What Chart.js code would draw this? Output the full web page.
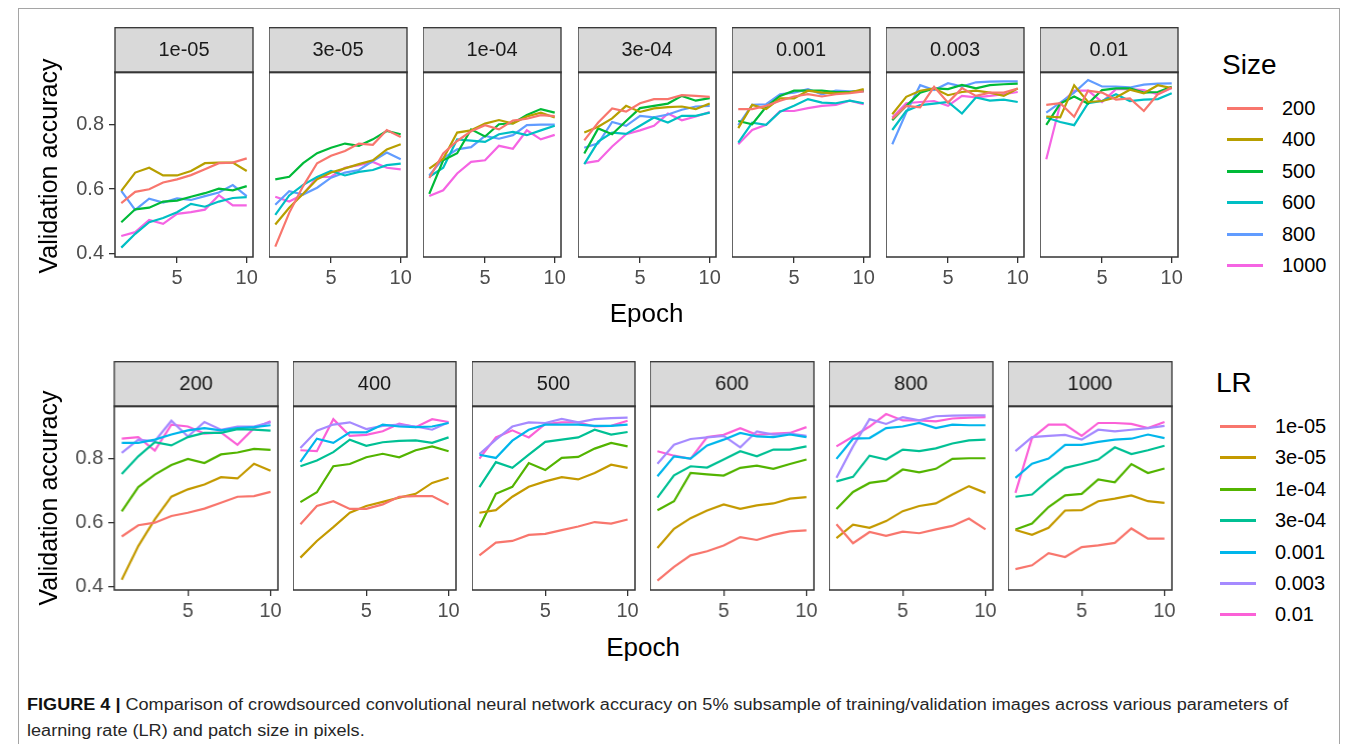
<!DOCTYPE html>
<html>
<head>
<meta charset="utf-8">
<script src="https://cdn.jsdelivr.net/npm/chart.js@4.4.1/dist/chart.umd.min.js"></script>
<style>
  body { margin: 0; background: #fff; font-family: "Liberation Sans", Arial, sans-serif; }
  #fig { position: relative; width: 1357px; height: 744px; overflow: hidden; background: #fff; }
  #frame { position: absolute; left: 18px; top: 8px; width: 1322px; height: 760px; border: 1px solid #a5a5a5; box-sizing: border-box; }
  canvas { position: absolute; }
  .t { position: absolute; white-space: nowrap; color: #000; line-height: 1; }
  .c { transform: translate(-50%, -50%); }
  .key { position: absolute; height: 3px; width: 36px; }
  #caption { position: absolute; left: 27px; top: 692px; width: 1160px; font-size: 16px; line-height: 26px; color: #262626;
             transform: scaleX(1.13); transform-origin: 0 0; white-space: nowrap; }
  #caption b { color: #111; }
</style>
</head>
<body>
<div id="fig">
  <div id="frame"></div>
  <div id="caption"><b>FIGURE 4 |</b> Comparison of crowdsourced convolutional neural network accuracy on 5% subsample of training/validation images across various parameters of<br>learning rate (LR) and patch size in pixels.</div>
</div>
<script>
// --- data -------------------------------------------------------------
const epochs = [1, 2, 3, 4, 5, 6, 7, 8, 9, 10];
const lrLabels = ['1e-05', '3e-05', '1e-04', '3e-04', '0.001', '0.003', '0.01'];
const sizeLabels = ['200', '400', '500', '600', '800', '1000'];
const sizeColors = ['#F8766D', '#B79F00', '#00BA38', '#00BFC4', '#619CFF', '#F564E3'];
const lrColors = ['#F8766D', '#C49A00', '#53B400', '#00C094', '#00B6EB', '#A58AFF', '#FB61D7'];
const xTicks = [5, 10];
const yTicks = [0.4, 0.6, 0.8];

// validation accuracy per patch size, one row per LR (same order as lrLabels)
const acc200 = [
  [0.556, 0.591, 0.599, 0.620, 0.630, 0.643, 0.661, 0.680, 0.682, 0.695],
  [0.421, 0.526, 0.609, 0.680, 0.703, 0.718, 0.741, 0.737, 0.783, 0.761],
  [0.634, 0.710, 0.749, 0.779, 0.798, 0.785, 0.812, 0.818, 0.829, 0.826],
  [0.751, 0.806, 0.850, 0.840, 0.866, 0.879, 0.879, 0.891, 0.889, 0.886],
  [0.848, 0.848, 0.858, 0.874, 0.887, 0.894, 0.887, 0.894, 0.897, 0.903],
  [0.817, 0.858, 0.853, 0.917, 0.868, 0.913, 0.889, 0.899, 0.899, 0.912],
  [0.861, 0.866, 0.824, 0.905, 0.899, 0.877, 0.881, 0.842, 0.894, 0.915]
];
const acc400 = [
  [0.594, 0.651, 0.666, 0.642, 0.642, 0.656, 0.680, 0.682, 0.682, 0.656],
  [0.490, 0.542, 0.585, 0.630, 0.651, 0.664, 0.677, 0.689, 0.723, 0.739],
  [0.663, 0.694, 0.775, 0.782, 0.803, 0.814, 0.803, 0.825, 0.837, 0.822],
  [0.775, 0.793, 0.819, 0.858, 0.839, 0.850, 0.854, 0.856, 0.848, 0.865],
  [0.789, 0.861, 0.848, 0.881, 0.881, 0.905, 0.899, 0.897, 0.899, 0.910],
  [0.832, 0.886, 0.905, 0.912, 0.891, 0.901, 0.905, 0.899, 0.889, 0.912],
  [0.825, 0.822, 0.922, 0.870, 0.873, 0.884, 0.908, 0.897, 0.922, 0.913]
];
const acc500 = [
  [0.497, 0.537, 0.542, 0.561, 0.564, 0.576, 0.587, 0.601, 0.596, 0.609],
  [0.630, 0.638, 0.680, 0.711, 0.728, 0.741, 0.734, 0.754, 0.780, 0.770],
  [0.585, 0.689, 0.711, 0.785, 0.763, 0.801, 0.804, 0.830, 0.848, 0.837],
  [0.710, 0.788, 0.770, 0.811, 0.851, 0.858, 0.865, 0.889, 0.874, 0.882],
  [0.811, 0.801, 0.855, 0.889, 0.905, 0.905, 0.905, 0.901, 0.901, 0.905],
  [0.813, 0.858, 0.899, 0.912, 0.910, 0.923, 0.912, 0.922, 0.925, 0.927],
  [0.799, 0.865, 0.887, 0.865, 0.907, 0.912, 0.912, 0.899, 0.901, 0.917]
];
const acc600 = [
  [0.418, 0.461, 0.497, 0.510, 0.528, 0.554, 0.545, 0.561, 0.572, 0.575],
  [0.520, 0.580, 0.613, 0.637, 0.656, 0.642, 0.653, 0.659, 0.674, 0.679],
  [0.638, 0.666, 0.754, 0.750, 0.746, 0.770, 0.777, 0.767, 0.782, 0.796],
  [0.677, 0.747, 0.775, 0.771, 0.796, 0.822, 0.806, 0.827, 0.827, 0.837],
  [0.744, 0.806, 0.799, 0.840, 0.858, 0.879, 0.868, 0.866, 0.874, 0.866],
  [0.783, 0.842, 0.860, 0.865, 0.870, 0.834, 0.884, 0.874, 0.877, 0.870],
  [0.822, 0.808, 0.798, 0.866, 0.873, 0.894, 0.873, 0.877, 0.879, 0.897]
];
const acc800 = [
  [0.594, 0.535, 0.570, 0.558, 0.571, 0.566, 0.578, 0.589, 0.612, 0.578],
  [0.551, 0.593, 0.583, 0.604, 0.635, 0.651, 0.659, 0.687, 0.713, 0.692],
  [0.642, 0.695, 0.723, 0.730, 0.765, 0.756, 0.767, 0.798, 0.800, 0.800],
  [0.728, 0.742, 0.808, 0.796, 0.827, 0.822, 0.831, 0.846, 0.856, 0.858],
  [0.798, 0.861, 0.863, 0.894, 0.899, 0.910, 0.894, 0.905, 0.903, 0.903],
  [0.739, 0.837, 0.922, 0.907, 0.928, 0.918, 0.931, 0.933, 0.934, 0.934],
  [0.837, 0.868, 0.899, 0.938, 0.918, 0.918, 0.915, 0.924, 0.927, 0.928]
];
const acc1000 = [
  [0.454, 0.466, 0.504, 0.492, 0.523, 0.528, 0.536, 0.581, 0.549, 0.549],
  [0.576, 0.561, 0.583, 0.637, 0.638, 0.666, 0.674, 0.684, 0.666, 0.661],
  [0.578, 0.596, 0.648, 0.684, 0.689, 0.734, 0.725, 0.782, 0.754, 0.768],
  [0.680, 0.687, 0.732, 0.770, 0.782, 0.796, 0.834, 0.813, 0.825, 0.839],
  [0.739, 0.783, 0.799, 0.842, 0.842, 0.851, 0.858, 0.861, 0.874, 0.863],
  [0.822, 0.866, 0.870, 0.873, 0.858, 0.889, 0.884, 0.889, 0.894, 0.901],
  [0.692, 0.863, 0.905, 0.905, 0.870, 0.910, 0.910, 0.907, 0.894, 0.913]
];
const accBySize = [acc200, acc400, acc500, acc600, acc800, acc1000];

// --- layout -----------------------------------------------------------
const FONT = '"Liberation Sans", Arial, sans-serif';
const X_MIN = 0.55, X_MAX = 10.45;
const Y_MIN = 0.389, Y_MAX = 0.963;
const fig = document.getElementById('fig');

// strip + panel border drawn around chart area
const panelDeco = {
  id: 'panelDeco',
  beforeDraw(chart, args, opts) {
    const { ctx, chartArea: a } = chart;
    ctx.save();
    ctx.fillStyle = '#d9d9d9';
    ctx.fillRect(a.left, a.top - opts.stripH, a.right - a.left, opts.stripH);
    ctx.strokeStyle = '#333';
    ctx.lineWidth = 1.3;
    ctx.strokeRect(a.left, a.top - opts.stripH + 0.7, a.right - a.left, opts.stripH);
    ctx.fillStyle = '#1a1a1a';
    ctx.font = '20px ' + FONT;
    ctx.textAlign = 'center';
    ctx.textBaseline = 'middle';
    ctx.fillText(opts.title, (a.left + a.right) / 2, a.top - opts.stripH / 2 + 1);
    ctx.restore();
  },
  afterDraw(chart) {
    const { ctx, chartArea: a } = chart;
    ctx.save();
    ctx.strokeStyle = '#333';
    ctx.lineWidth = 1.5;
    ctx.strokeRect(a.left, a.top, a.right - a.left, a.bottom - a.top);
    ctx.restore();
  }
};

function makePanel(p) {
  const padL = p.showY ? 80 : 0, padR = 18, axisH = 40;
  const cv = document.createElement('canvas');
  const w = padL + p.w + padR, h = p.stripH + p.h + axisH;
  cv.width = w; cv.height = h;
  cv.style.left = (p.left - padL) + 'px';
  cv.style.top = (p.top - p.stripH) + 'px';
  cv.style.width = w + 'px'; cv.style.height = h + 'px';
  fig.appendChild(cv);

  const tickGrid = { display: true, drawOnChartArea: false, drawTicks: true, tickLength: 6, color: '#333', lineWidth: 1.3 };
  new Chart(cv.getContext('2d'), {
    type: 'line',
    data: {
      datasets: p.series.map(s => ({
        label: s.label,
        data: epochs.map((e, i) => ({ x: e, y: s.values[i] })),
        borderColor: s.color,
        borderWidth: 2.2,
        pointRadius: 0,
        tension: 0,
        fill: false
      }))
    },
    options: {
      responsive: false,
      animation: false,
      devicePixelRatio: 1,
      layout: { padding: { left: 0, right: padR, top: p.stripH, bottom: 0 } },
      plugins: {
        legend: { display: false },
        tooltip: { enabled: false },
        panelDeco: { title: p.title, stripH: p.stripH }
      },
      scales: {
        x: {
          type: 'linear', min: X_MIN, max: X_MAX,
          afterBuildTicks: ax => { ax.ticks = xTicks.map(v => ({ value: v })); },
          afterFit: s => { s.height = axisH; },
          ticks: { color: '#4d4d4d', font: { family: FONT, size: 20 }, padding: 3, maxRotation: 0 },
          grid: tickGrid,
          border: { display: false }
        },
        y: {
          display: p.showY,
          min: Y_MIN, max: Y_MAX,
          afterBuildTicks: ax => { ax.ticks = yTicks.map(v => ({ value: v })); },
          afterFit: s => { s.width = padL; },
          ticks: { color: '#4d4d4d', font: { family: FONT, size: 20 }, padding: 5, callback: v => v.toFixed(1) },
          grid: tickGrid,
          border: { display: false }
        }
      }
    },
    plugins: [panelDeco]
  });
}

function addText(txt, x, y, size, extra) {
  const d = document.createElement('div');
  d.className = 't' + (extra && extra.center ? ' c' : '');
  d.textContent = txt;
  d.style.left = x + 'px'; d.style.top = y + 'px';
  d.style.fontSize = size + 'px';
  if (extra && extra.rotate) d.style.transform = 'translate(-50%,-50%) rotate(-90deg)';
  fig.appendChild(d);
}

function addLegend(title, labels, colors, titleX, titleY, keyX, firstY, step) {
  addText(title, titleX, titleY - 14, 28);
  labels.forEach((lab, i) => {
    const y = Math.round(firstY + i * step);
    const k = document.createElement('div');
    k.className = 'key';
    k.style.left = keyX + 'px'; k.style.top = (y - 1) + 'px';
    k.style.background = colors[i];
    fig.appendChild(k);
    addText(lab, keyX + 55, y - 10, 20);
  });
}

// top row: facet by LR, lines by patch size
const topLefts = [115, 269.2, 423.4, 577.6, 731.8, 886, 1040.2];
lrLabels.forEach((lr, j) => {
  makePanel({
    left: topLefts[j], top: 72, w: 138, h: 185, stripH: 45,
    title: lr, showY: j === 0,
    series: sizeLabels.map((s, k) => ({ label: s, color: sizeColors[k], values: accBySize[k][j] }))
  });
});

// bottom row: facet by patch size, lines by LR
const botLefts = [114, 292.8, 471.6, 650.4, 829.2, 1008];
sizeLabels.forEach((s, k) => {
  makePanel({
    left: botLefts[k], top: 406, w: 163.5, h: 184, stripH: 45,
    title: s, showY: k === 0,
    series: lrLabels.map((lr, j) => ({ label: lr, color: lrColors[j], values: accBySize[k][j] }))
  });
});

// axis titles
addText('Validation accuracy', 48, 166, 25, { rotate: true, center: true });
addText('Validation accuracy', 48, 498, 25, { rotate: true, center: true });
addText('Epoch', 646.5, 313, 26, { center: true });
addText('Epoch', 643, 647, 26, { center: true });

// legends
addLegend('Size', sizeLabels, sizeColors, 1222, 65, 1227, 108, 31.4);
addLegend('LR', lrLabels, lrColors, 1216, 383, 1220, 426, 31.4);
</script>
</body>
</html>
